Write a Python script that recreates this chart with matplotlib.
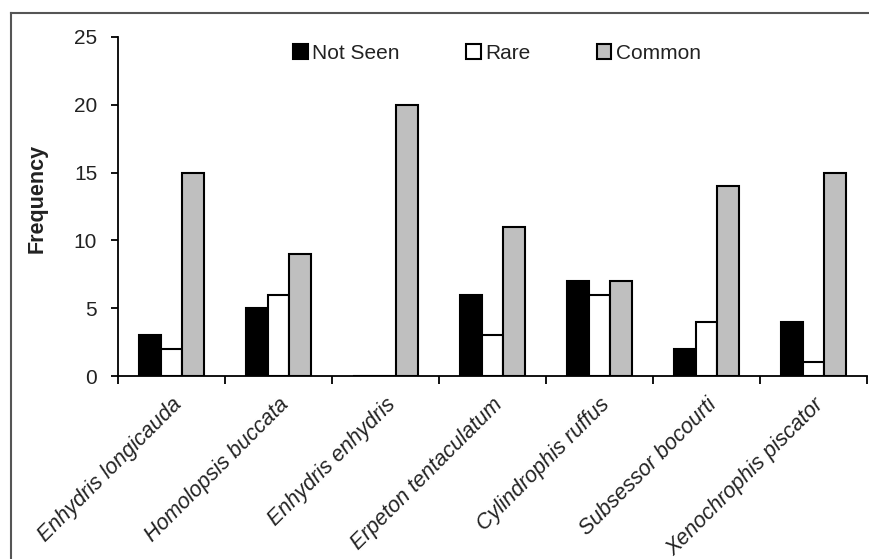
import matplotlib
matplotlib.use("Agg")
import matplotlib.pyplot as plt
from matplotlib.lines import Line2D
import numpy as np

plt.rcParams["font.family"] = ["Liberation Sans", "DejaVu Sans"]

species = ["Enhydris longicauda", "Homolopsis buccata", "Enhydris enhydris",
           "Erpeton tentaculatum", "Cylindrophis ruffus", "Subsessor bocourti",
           "Xenochrophis piscator"]
not_seen = [3, 5, 0, 6, 7, 2, 4]
rare = [2, 6, 0, 3, 6, 4, 1]
common = [15, 9, 20, 11, 7, 14, 15]
series_names = ["Not Seen", "Rare", "Common"]
series_colors = ["#000000", "#FFFFFF", "#BFBFBF"]

fig = plt.figure(figsize=(8.7, 5.59), dpi=100)
ax = fig.add_axes([118 / 870, 1 - 376 / 559, (867 - 118) / 870, (376 - 37) / 559])

x = np.arange(len(species))
width = 0.2
for i, (vals, name, col) in enumerate(zip([not_seen, rare, common], series_names, series_colors)):
    ax.bar(x + (i - 1) * width, vals, width, color=col, edgecolor="black",
           linewidth=1.5, label=name)

ax.set_xlim(-0.5, len(species) - 0.5)
ax.set_ylim(0, 25)
ax.set_yticks(range(0, 26, 5))
ax.set_xticks(np.arange(-0.5, len(species), 1.0))
ax.set_xticklabels([])
ax.tick_params(axis="x", which="major", direction="out", length=6, width=1.3)
ax.tick_params(axis="y", direction="out", length=5, width=1.3, labelsize=15,
               pad=10, labelcolor="#222222")
ax.set_xticks(x, minor=True)
ax.set_xticklabels(species, minor=True, rotation=45, ha="right", va="top",
                   rotation_mode="anchor", fontsize=15.5, style="italic", color="#222222")
ax.tick_params(axis="x", which="minor", length=0, pad=13)

for s in ["top", "right"]:
    ax.spines[s].set_visible(False)
for s in ["left", "bottom"]:
    ax.spines[s].set_linewidth(1.3)

fig.text(37 / 870, 1 - 198 / 559, "Frequency", rotation=90, ha="center", va="center",
         fontsize=15.5, fontweight="bold", color="#222222")

ax.legend(loc="center", bbox_to_anchor=(497 / 870, 1 - 53 / 559),
          bbox_transform=fig.transFigure, ncol=3, frameon=False, fontsize=15,
          handlelength=0.7, handleheight=0.7, handletextpad=0.2, columnspacing=3.2,
          labelcolor="#222222")

# outer frame (top and left visible)
fig.add_artist(Line2D([11 / 870, 11 / 870], [0, 1 - 12.5 / 559], transform=fig.transFigure,
                      color="#555555", linewidth=1.5))
fig.add_artist(Line2D([11 / 870, 1], [1 - 12.5 / 559, 1 - 12.5 / 559], transform=fig.transFigure,
                      color="#555555", linewidth=1.5))

fig.savefig("out.png", dpi=100)
